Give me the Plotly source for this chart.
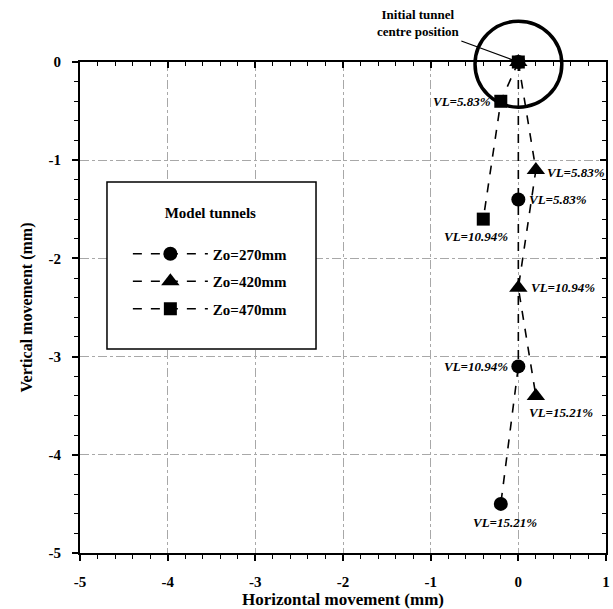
import plotly.graph_objects as go

# ---- data ----
z270_x = [0.0, 0.0, 0.0, -0.2]
z270_y = [0.0, -1.4, -3.1, -4.5]
z270_lbl = ["", "VL=5.83%", "VL=10.94%", "VL=15.21%"]

z420_x = [0.0, 0.2, 0.0, 0.2]
z420_y = [0.0, -1.1, -2.3, -3.4]
z420_lbl = ["", "VL=5.83%", "VL=10.94%", "VL=15.21%"]

z470_x = [0.0, -0.2, -0.4]
z470_y = [0.0, -0.4, -1.6]
z470_lbl = ["", "VL=5.83%", "VL=10.94%"]

series_names = ["Zo=270mm", "Zo=420mm", "Zo=470mm"]
x_ticks = [-5, -4, -3, -2, -1, 0, 1]
y_ticks = [0, -1, -2, -3, -4, -5]
x_range = [-5, 1]
y_range = [-5, 0]

SERIF = "Liberation Serif"
fig = go.Figure()

line = dict(color="black", width=1.6, dash="dash")
markers = [dict(symbol="circle", size=14, color="black"),
           dict(symbol="triangle-up", size=16, color="black"),
           dict(symbol="square", size=13, color="black")]
for i, (xs, ys) in enumerate([(z270_x, z270_y), (z420_x, z420_y), (z470_x, z470_y)]):
    fig.add_trace(go.Scatter(x=xs, y=ys, mode="lines+markers", name=series_names[i],
                             legendgroup=series_names[i], line=line, marker=markers[i],
                             cliponaxis=False))
# invisible trace for mirrored axes
fig.add_trace(go.Scatter(x=x_range, y=y_range, xaxis="x2", yaxis="y2", mode="markers",
                         marker=dict(opacity=0), showlegend=False, hoverinfo="skip"))

# label placement (style): (xanchor, yanchor, xshift, yshift)
place270 = [None, ("left", "middle", 9, 0), ("right", "middle", -8, 0), ("center", "top", 4, -9)]
place420 = [None, ("left", "middle", 9, -2), ("left", "middle", 11, 0), ("left", "top", -9, -7)]
place470 = [None, ("right", "middle", -8, 0), ("center", "top", -7, -8)]

lblfont = dict(family=SERIF, size=13, color="black", style="italic", weight="bold")
for xs, ys, ls, pl in [(z270_x, z270_y, z270_lbl, place270),
                       (z420_x, z420_y, z420_lbl, place420),
                       (z470_x, z470_y, z470_lbl, place470)]:
    for xv, yv, t, p in zip(xs, ys, ls, pl):
        if not t:
            continue
        fig.add_annotation(x=xv, y=yv, text=t, showarrow=False, xanchor=p[0], yanchor=p[1],
                           xshift=p[2], yshift=p[3], font=lblfont)

# circle around initial position (paper coords so it is not clipped)
fig.add_shape(type="circle", xref="paper", yref="paper", x0=0.751, x1=0.916, y0=0.908, y1=1.083,
              line=dict(color="black", width=3.5))
# legend frame
fig.add_shape(type="rect", xref="paper", yref="paper", x0=0.0513, x1=0.4487, y0=0.4155, y1=0.7556,
              line=dict(color="black", width=1.5), fillcolor="white", layer="above")

fig.add_annotation(x=0, y=0, ax=-57, ay=-21,
                   text="Initial tunnel<br>centre position", showarrow=True, arrowhead=0,
                   arrowwidth=1.3, arrowcolor="black", xanchor="right", yanchor="bottom",
                   align="center",
                   font=dict(family=SERIF, size=13, color="black", weight="bold"))

tickf = dict(family=SERIF, size=15, color="black", weight="bold")
axis_common = dict(showline=True, linecolor="black", linewidth=2, zeroline=False,
                   automargin=False, tickmode="array",
                   tickfont=tickf,
                   ticks="outside", ticklen=6, tickwidth=1.5, tickcolor="black",
                   minor=dict(ticks="outside", ticklen=4, tickwidth=1, tickcolor="black",
                              tickmode="linear", tick0=0, dtick=0.2, showgrid=False),
                   showgrid=True, gridcolor="#a8a8a8", gridwidth=1, griddash="dashdot")
mirror_common = dict(showticklabels=False, showline=True, linecolor="black", linewidth=2,
                     showgrid=False, zeroline=False, automargin=False,
                     tickmode="linear", tick0=0, dtick=1,
                     ticks="inside", ticklen=6, tickwidth=1.5, tickcolor="black",
                     minor=dict(ticks="inside", ticklen=4, tickwidth=1, tickcolor="black",
                                tickmode="linear", tick0=0, dtick=0.2, showgrid=False))

fig.update_layout(
    width=613, height=609,
    margin=dict(l=80, r=7, t=62, b=56),
    paper_bgcolor="white", plot_bgcolor="white",
    font=dict(family=SERIF, color="black"),
    xaxis=dict(range=x_range, tickvals=x_ticks, ticktext=[f"<b>{v}</b>" for v in x_ticks],
               ticklabelstandoff=8,
               title=dict(text="Horizontal movement (mm)", standoff=0,
                          font=dict(family=SERIF, size=17, color="black", weight="bold")),
               **axis_common),
    yaxis=dict(range=y_range, tickvals=y_ticks, ticktext=[f"<b>{v}</b>" for v in y_ticks],
               ticklabelstandoff=8,
               title=dict(text="Vertical movement (mm)", standoff=12,
                          font=dict(family=SERIF, size=16, color="black", weight="bold")),
               **axis_common),
    xaxis2=dict(range=x_range, overlaying="x", side="top", **mirror_common),
    yaxis2=dict(range=y_range, overlaying="y", side="right", **mirror_common),
    legend=dict(x=0.091, y=0.722, xanchor="left", yanchor="top",
                bgcolor="rgba(0,0,0,0)", borderwidth=0,
                title=dict(text="Model tunnels<br> ", side="top center",
                           font=dict(family=SERIF, size=15, color="black", weight="bold")),
                font=dict(family=SERIF, size=15, color="black", weight="bold"),
                itemwidth=75, tracegroupgap=5),
    showlegend=True,
)

fig.write_html("out.html", config={"displayModeBar": False},
               post_script="document.body.style.margin='0';")
